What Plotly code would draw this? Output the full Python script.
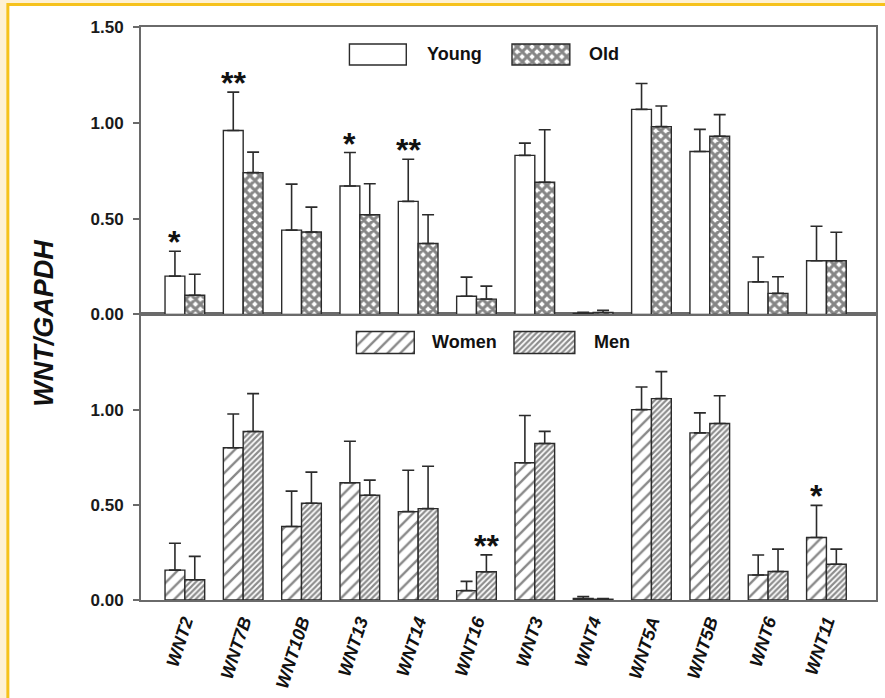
import plotly.graph_objects as go

# ---------------- data ----------------
genes = ["WNT2", "WNT7B", "WNT10B", "WNT13", "WNT14", "WNT16",
         "WNT3", "WNT4", "WNT5A", "WNT5B", "WNT6", "WNT11"]

young = [0.20, 0.96, 0.44, 0.67, 0.59, 0.095, 0.83, 0.005, 1.07, 0.85, 0.17, 0.28]
young_err = [0.13, 0.20, 0.24, 0.175, 0.22, 0.10, 0.064, 0.006, 0.135, 0.116, 0.13, 0.18]
old = [0.10, 0.74, 0.43, 0.52, 0.37, 0.08, 0.69, 0.010, 0.98, 0.93, 0.11, 0.28]
old_err = [0.11, 0.107, 0.13, 0.162, 0.15, 0.068, 0.274, 0.012, 0.108, 0.113, 0.087, 0.149]

women = [0.157, 0.80, 0.386, 0.616, 0.464, 0.049, 0.721, 0.008, 1.00, 0.878, 0.131, 0.328]
women_err = [0.141, 0.177, 0.186, 0.218, 0.218, 0.049, 0.248, 0.010, 0.119, 0.105, 0.105, 0.169]
men = [0.106, 0.885, 0.508, 0.55, 0.48, 0.148, 0.822, 0.004, 1.058, 0.927, 0.150, 0.188]
men_err = [0.123, 0.199, 0.164, 0.08, 0.223, 0.089, 0.064, 0.004, 0.142, 0.146, 0.117, 0.079]

young_sig = ["*", "**", "", "*", "**", "", "", "", "", "", "", ""]
old_sig = [""] * 12
women_sig = ["", "", "", "", "", "", "", "", "", "", "", "*"]
men_sig = ["", "", "", "", "", "**", "", "", "", "", "", ""]

y_ticks_top = [0, 0.5, 1.0, 1.5]
y_ticks_bottom = [0, 0.5, 1.0]

# ---------------- style / layout ----------------
FIG_W, FIG_H = 885, 698
L, R, T, B = 141, 7, 27, 97
PW, PH = FIG_W - L - R, FIG_H - T - B
SPLIT = 0.4983
BARGAP = 0.32
FONT = "Liberation Sans, Arial, sans-serif"
EDGE = "#2b2b2b"
AXIS = "#6a6a6a"
CREAM = "#FEF1D4"
GOLD = "#F6C21C"


def px_x(p):
    return (p - L) / PW


def px_y(q):
    return (FIG_H - B - q) / PH


bw = (1 - BARGAP) / 2
offs = [-bw / 2, bw / 2]

styles = {
    "Young": dict(color="white", pattern=dict(shape="")),
    "Old": dict(color="white", pattern=dict(shape="x", fgcolor="#0d0d0d", bgcolor="white",
                                            size=7, solidity=0.68, fillmode="overlay")),
    "Women": dict(color="white", pattern=dict(shape="/", fgcolor="#111111", bgcolor="white",
                                              size=9, solidity=0.26, fillmode="overlay")),
    "Men": dict(color="white", pattern=dict(shape="/", fgcolor="#1a1a1a", bgcolor="white",
                                            size=4, solidity=0.55, fillmode="overlay")),
}

fig = go.Figure()

panels = [
    ("x2", "y2", [("Young", young, young_err, young_sig), ("Old", old, old_err, old_sig)]),
    ("x", "y", [("Women", women, women_err, women_sig), ("Men", men, men_err, men_sig)]),
]

annotations = []
for xa, ya, series in panels:
    for k, (name, vals, errs, sigs) in enumerate(series):
        st = styles[name]
        fig.add_trace(go.Bar(
            x=genes, y=vals, name=name, xaxis=xa, yaxis=ya,
            offsetgroup=str(k),
            marker=dict(color=st["color"], pattern=st["pattern"],
                        line=dict(color=EDGE, width=1.4)),
            error_y=dict(type="data", symmetric=False, array=errs,
                         arrayminus=[0] * len(errs), color=EDGE,
                         thickness=1.6, width=6),
            showlegend=False, hoverinfo="skip",
        ))
        for i, s in enumerate(sigs):
            if s:
                annotations.append(dict(
                    x=i + offs[k], y=vals[i] + errs[i], xref=xa, yref=ya,
                    text="<b>%s</b>" % s, showarrow=False,
                    yanchor="middle", yshift=9,
                    font=dict(family=FONT, size=32, color="#111"),
                ))

# ------------- legend swatches (hidden overlay axis) -------------
legend_items = [
    # name, swatch x0, x1, y0, y1 (px), text x (px)
    ("Young", 350, 407, 44, 65, 426),
    ("Old", 513, 571, 44, 65, 588),
    ("Women", 357, 415, 332, 354, 431),
    ("Men", 515, 576, 332, 354, 593),
]
for name, x0, x1, y0, y1, tx in legend_items:
    st = styles[name]
    fig.add_trace(go.Bar(
        x=[px_x((x0 + x1) / 2)], y=[px_y(y0) - px_y(y1)], base=[px_y(y1)],
        width=[px_x(x1) - px_x(x0)], xaxis="x3", yaxis="y3",
        marker=dict(color=st["color"], pattern=st["pattern"],
                    line=dict(color=EDGE, width=1.4)),
        showlegend=False, hoverinfo="skip",
    ))
    annotations.append(dict(
        x=px_x(tx), y=px_y((y0 + y1) / 2), xref="paper", yref="paper",
        text="<b>%s</b>" % name, showarrow=False, xanchor="left", yanchor="middle",
        font=dict(family=FONT, size=18, color="#111"),
    ))

annotations.append(dict(
    x=px_x(44), y=px_y(324), xref="paper", yref="paper",
    text="<b><i>WNT/GAPDH</i></b>", showarrow=False, textangle=-90,
    xanchor="center", yanchor="middle",
    font=dict(family=FONT, size=27, color="#111"),
))

tickfont = dict(family=FONT, size=17, color="#1a1a1a", weight="bold")
xr = [-0.752, 11.85]

yaxis_common = dict(showline=True, linecolor=AXIS, linewidth=2, mirror=True,
                    ticks="outside", ticklen=6, tickwidth=1.5, tickcolor=AXIS,
                    showgrid=False, zeroline=False, range=[0, 1.5],
                    tickfont=tickfont, ticklabelstandoff=6)

fig.update_layout(
    width=FIG_W, height=FIG_H,
    margin=dict(l=L, r=R, t=T, b=B, pad=0),
    paper_bgcolor=CREAM, plot_bgcolor="rgba(0,0,0,0)",
    barmode="group", bargap=BARGAP, bargroupgap=0,
    xaxis=dict(domain=[0, 1], anchor="y", range=xr, showline=True, linecolor=AXIS,
               linewidth=2, mirror=True, ticks="", showgrid=False,
               tickangle=-72, tickmode="array", tickvals=genes, ticktext=genes,
               ticklabelstandoff=2,
               tickfont=dict(family=FONT, size=18, color="#111", weight="bold",
                             style="italic")),
    xaxis2=dict(domain=[0, 1], anchor="y2", range=xr, matches="x", showline=True,
                linecolor=AXIS, linewidth=2, mirror=True, ticks="",
                showticklabels=False, showgrid=False),
    yaxis=dict(domain=[0, SPLIT], anchor="x", tickmode="array",
               tickvals=y_ticks_bottom, ticktext=["%.2f" % v for v in y_ticks_bottom],
               **yaxis_common),
    yaxis2=dict(domain=[SPLIT, 1], anchor="x2", tickmode="array",
                tickvals=y_ticks_top, ticktext=["%.2f" % v for v in y_ticks_top],
                **yaxis_common),
    xaxis3=dict(domain=[0, 1], anchor="y3", range=[0, 1], visible=False, fixedrange=True),
    yaxis3=dict(domain=[0, 1], anchor="x3", range=[0, 1], visible=False, fixedrange=True),
    annotations=annotations,
    shapes=[dict(type="rect", xref="paper", yref="paper", layer="below",
                 x0=px_x(7.5), x1=px_x(FIG_W + 20), y0=px_y(FIG_H + 20), y1=px_y(4.5),
                 fillcolor="white", line=dict(color=GOLD, width=3))],
)

fig.write_html("out.html", config={"displayModeBar": False})

# remove the default page margin so the figure sits at the window's origin
with open("out.html", "r", encoding="utf-8") as f:
    html = f.read()
html = html.replace("<body>", '<body style="margin:0;padding:0;overflow:hidden">', 1)
with open("out.html", "w", encoding="utf-8") as f:
    f.write(html)
